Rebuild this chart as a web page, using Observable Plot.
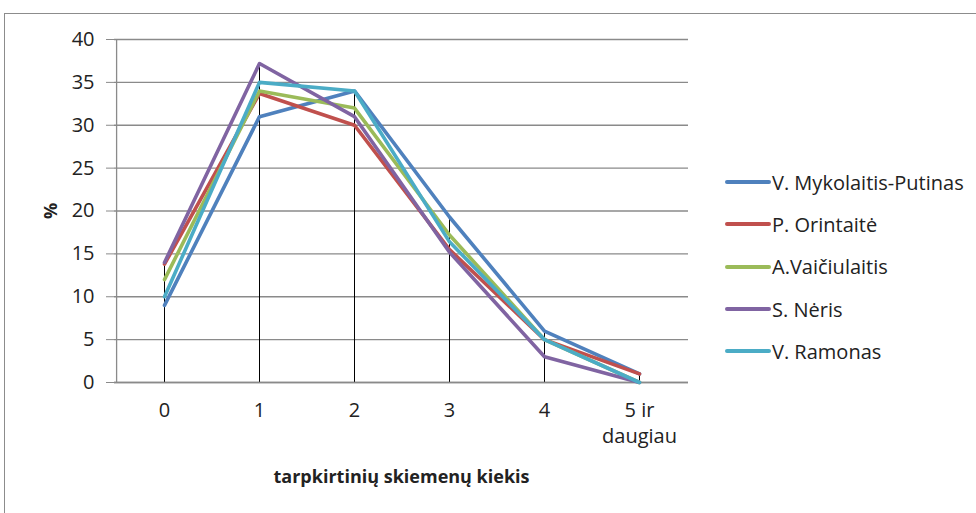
<!DOCTYPE html>
<html>
<head>
<meta charset="utf-8">
<script src="https://cdn.jsdelivr.net/npm/d3@7"></script>
<script src="https://cdn.jsdelivr.net/npm/@observablehq/plot@0.6"></script>
<style>
  html, body { margin: 0; padding: 0; background: #fff; }
  #wrap { position: relative; width: 976px; height: 513px; overflow: hidden; font-family: "Open Sans", Lato, sans-serif; }
  #frame { position: absolute; left: 4px; top: 13px; width: 980px; height: 520px; border: 1.5px solid #8c8c8c; box-sizing: border-box; pointer-events: none; }
  #legend { position: absolute; left: 725px; top: 161px; font-size: 20px; color: #222; }
  .item { display: flex; align-items: center; height: 42.3px; }
  .swatch { width: 46px; height: 4px; border-radius: 2px; margin-right: 1px; }
</style>
</head>
<body>
<div id="wrap">
  <div id="chart"></div>
  <div id="frame"></div>
  <div id="legend"></div>
</div>
<script>
const categories = ["0", "1", "2", "3", "4", "5"];
const tickLabels = ["0", "1", "2", "3", "4", "5 ir\ndaugiau"];
const seriesNames = ["V. Mykolaitis-Putinas", "P. Orintaitė", "A.Vaičiulaitis", "S. Nėris", "V. Ramonas"];
const seriesColors = ["#4F81BD", "#C0504D", "#9BBB59", "#8064A2", "#4BACC6"];
const mykolaitis = [9, 31, 34, 19.3, 6, 1];
const orintaite = [13.8, 33.7, 30, 15.5, 5, 1];
const vaiciulaitis = [12, 34, 32, 17.2, 5, 0];
const neris = [14, 37.2, 31, 15.2, 3, 0];
const ramonas = [10, 35, 34, 16.4, 5, 0];
const yTicks = [0, 5, 10, 15, 20, 25, 30, 35, 40];

const seriesValues = [mykolaitis, orintaite, vaiciulaitis, neris, ramonas];
const data = [];
seriesNames.forEach((name, i) => {
  categories.forEach((c, j) => data.push({series: name, cat: c, value: seriesValues[i][j]}));
});
const drops = categories.map((c, j) => ({cat: c, top: d3.max(seriesValues, s => s[j])}));

const chart = Plot.plot({
  width: 976,
  height: 513,
  marginLeft: 114,
  marginRight: 288,
  marginTop: 39,
  marginBottom: 131,
  style: {fontFamily: "'Open Sans', Lato, sans-serif", fontSize: "20px", color: "#222", background: "transparent"},
  x: {type: "point", domain: categories, padding: 0.5},
  y: {domain: [0, 40]},
  color: {domain: seriesNames, range: seriesColors},
  marks: [
    Plot.gridY(yTicks, {stroke: "#8a8a8a", strokeOpacity: 1, strokeWidth: 1.3}),
    Plot.axisY(yTicks, {tickSize: 8, tickPadding: 12, stroke: "#8a8a8a", label: "%", labelAnchor: "center", labelArrow: "none", labelOffset: 70, fontSize: 20}),
    Plot.axisX({tickSize: 0, tickPadding: 16, tickFormat: (d, i) => tickLabels[i], lineHeight: 1.3, label: "tarpkirtinių skiemenų kiekis", labelAnchor: "center", labelArrow: "none", labelOffset: 100, fontSize: 20}),
    Plot.ruleX(drops, {x: "cat", y1: 0, y2: "top", stroke: "#000", strokeWidth: 1}),
    Plot.ruleY([0], {stroke: "#8a8a8a", strokeWidth: 1.3}),
    Plot.ruleX([categories[0]], {y1: 0, y2: 40, dx: -47.9, stroke: "#8a8a8a", strokeWidth: 1.3}),
    Plot.line(data, {x: "cat", y: "value", z: "series", stroke: "series", strokeWidth: 3.6, strokeLinejoin: "round", strokeLinecap: "round"})
  ]
});
document.getElementById("chart").appendChild(chart);

// bold axis labels
chart.querySelectorAll("[aria-label='y-axis label'] text, [aria-label='x-axis label'] text").forEach(t => {
  t.setAttribute("font-weight", "bold");
  t.setAttribute("font-size", "18");
});

const legend = document.getElementById("legend");
seriesNames.forEach((name, i) => {
  const item = document.createElement("div");
  item.className = "item";
  const sw = document.createElement("div");
  sw.className = "swatch";
  sw.style.background = seriesColors[i];
  const lab = document.createElement("span");
  lab.textContent = name;
  item.appendChild(sw);
  item.appendChild(lab);
  legend.appendChild(item);
});
</script>
</body>
</html>
